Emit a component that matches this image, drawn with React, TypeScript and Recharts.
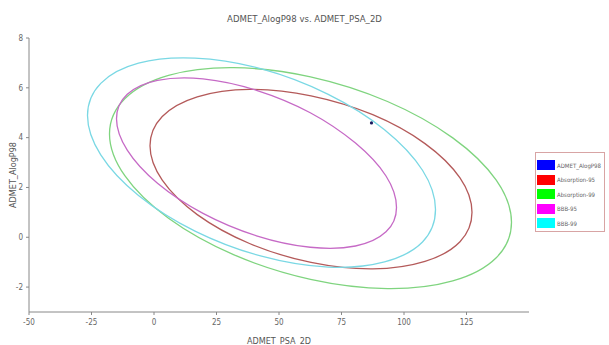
import { ComposedChart, Line, Scatter, XAxis, YAxis } from 'recharts'

const xTicks = [-50, -25, 0, 25, 50, 75, 100, 125]
const yTicks = [-2, 0, 2, 4, 6, 8]

const seriesNames = ['ADMET_AlogP98', 'Absorption-95', 'Absorption-99', 'BBB-95', 'BBB-99']
const swatchColors = ['#0000ff', '#ff0000', '#00ff00', '#ff00ff', '#00ffff']
const lineColors = ['#1a1a5e', '#b45a5a', '#7fd47f', '#c66ac6', '#7ad8e4']

// the one compound (PSA_2D, AlogP98)
const compound: [number, number][] = [[87.0, 4.59]]

// ellipse outlines, going round from the right-hand end
const absorption95: [number, number][] = [
  [127.2, 1.0], [122.4, 2.38], [108.4, 3.76], [87.5, 4.92], [62.8, 5.68], [38.2, 5.94],
  [17.3, 5.64], [3.3, 4.85], [-1.6, 3.67], [3.3, 2.29], [17.3, 0.91], [38.2, -0.25],
  [62.8, -1.01], [87.5, -1.27], [108.4, -0.97], [122.4, -0.18],
]

const absorption99: [number, number][] = [
  [143.0, 0.6], [136.9, 2.29], [119.5, 3.99], [93.4, 5.45], [62.6, 6.44], [31.8, 6.81],
  [5.8, 6.5], [-11.6, 5.57], [-17.8, 4.15], [-11.6, 2.46], [5.8, 0.76], [31.8, -0.7],
  [62.6, -1.69], [93.4, -2.06], [119.5, -1.75], [136.9, -0.82],
]

const bbb95: [number, number][] = [
  [97.0, 1.2], [92.8, 2.46], [80.6, 3.78], [62.5, 5.0], [41.0, 5.9], [19.6, 6.36],
  [1.4, 6.3], [-10.7, 5.74], [-15.0, 4.76], [-10.7, 3.5], [1.4, 2.17], [19.6, 0.96],
  [41.0, 0.06], [62.5, -0.4], [80.6, -0.35], [92.8, 0.22],
]

const bbb99: [number, number][] = [
  [112.6, 1.11], [107.4, 2.69], [92.2, 4.32], [69.7, 5.74], [43.0, 6.76], [16.4, 7.19],
  [-6.2, 6.99], [-21.3, 6.18], [-26.6, 4.89], [-21.3, 3.31], [-6.2, 1.68], [16.4, 0.25],
  [43.0, -0.76], [69.7, -1.2], [92.2, -0.99], [107.4, -0.19],
]

const toPoints = (pts: [number, number][]) => pts.map(([x, y]) => ({ x, y }))

const loops = [absorption95, absorption99, bbb95, bbb99]

// closed catmull-rom through the projected points, so the outlines come out round
function closedSmooth(context: any) {
  let pts: number[][] = []
  return {
    areaStart() {},
    areaEnd() {},
    lineStart() {
      pts = []
    },
    point(x: number, y: number) {
      pts.push([+x, +y])
    },
    lineEnd() {
      const n = pts.length
      if (!n) return
      context.moveTo(pts[0][0], pts[0][1])
      for (let i = 0; i < n; i++) {
        const p0 = pts[(i - 1 + n) % n]
        const p1 = pts[i]
        const p2 = pts[(i + 1) % n]
        const p3 = pts[(i + 2) % n]
        context.bezierCurveTo(
          p1[0] + (p2[0] - p0[0]) / 6,
          p1[1] + (p2[1] - p0[1]) / 6,
          p2[0] - (p3[0] - p1[0]) / 6,
          p2[1] - (p3[1] - p1[1]) / 6,
          p2[0],
          p2[1],
        )
      }
      context.closePath()
    },
  }
}

const font = "'Liberation Sans Narrow', 'DejaVu Sans Condensed', 'Liberation Sans', sans-serif"

function LegendBox() {
  return (
    <div
      style={{
        position: 'absolute',
        left: 535,
        top: 152,
        width: 70,
        height: 80,
        boxSizing: 'border-box',
        border: '1px solid #d8a4a4',
        padding: '5px 1px 0 1px',
        fontFamily: font,
      }}
    >
      {seriesNames.map((name, i) => (
        <div key={name} style={{ display: 'flex', alignItems: 'center', height: 14.5 }}>
          <span style={{ display: 'inline-block', width: 18, height: 10, background: swatchColors[i], marginRight: 2 }} />
          <span style={{ fontSize: 6, color: '#666', whiteSpace: 'nowrap' }}>{name}</span>
        </div>
      ))}
    </div>
  )
}

export default function App() {
  return (
    <div style={{ position: 'absolute', left: 0, top: 0, width: 609, height: 345, background: '#fff', fontFamily: font }}>
      <div style={{ position: 'absolute', top: 13, left: 0, width: 609, textAlign: 'center', fontSize: 9.5, color: '#555' }}>
        ADMET_AlogP98 vs. ADMET_PSA_2D
      </div>
      <ComposedChart width={609} height={345} margin={{ top: 38, right: 80, bottom: 0, left: 0 }}>
        <XAxis
          type="number"
          dataKey="x"
          domain={[-50, 150]}
          ticks={xTicks}
          height={33}
          tickSize={3}
          tickMargin={4}
          tick={{ fontSize: 8, fill: '#666', fontFamily: font }}
          axisLine={{ stroke: '#888' }}
          tickLine={{ stroke: '#888' }}
          label={{ value: 'ADMET_PSA_2D', position: 'insideBottom', offset: 1, fontSize: 9, fill: '#555', fontFamily: font }}
        />
        <YAxis
          type="number"
          dataKey="y"
          domain={[-3, 8]}
          ticks={yTicks}
          width={29}
          tickSize={3}
          tickMargin={3}
          tick={{ fontSize: 8, fill: '#666', fontFamily: font }}
          axisLine={{ stroke: '#888' }}
          tickLine={{ stroke: '#888' }}
          label={{ value: 'ADMET_AlogP98', angle: -90, position: 'center', dx: -2, fontSize: 9, fill: '#555', fontFamily: font }}
        />
        {loops.map((pts, i) => (
          <Line
            key={seriesNames[i + 1]}
            data={toPoints(pts)}
            dataKey="y"
            name={seriesNames[i + 1]}
            type={closedSmooth as any}
            stroke={lineColors[i + 1]}
            strokeWidth={1.3}
            dot={false}
            activeDot={false}
            isAnimationActive={false}
          />
        ))}
        <Scatter
          data={toPoints(compound)}
          name={seriesNames[0]}
          fill={lineColors[0]}
          shape={(p: any) => <circle cx={p.cx} cy={p.cy} r={1.6} fill={lineColors[0]} />}
          isAnimationActive={false}
        />
      </ComposedChart>
      <LegendBox />
    </div>
  )
}
